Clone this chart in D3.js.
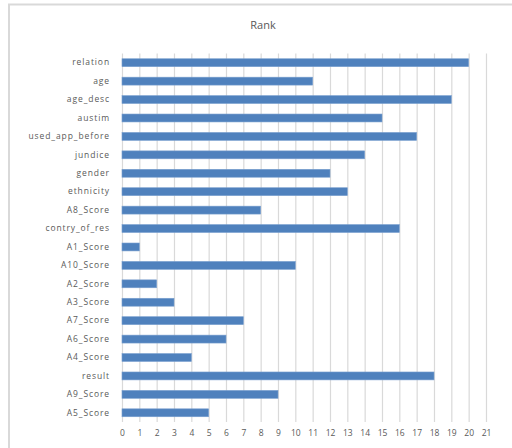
<!DOCTYPE html>
<html><head><meta charset="utf-8">
<script src="https://cdn.jsdelivr.net/npm/d3@7"></script>
<style>body{margin:0;background:#fff;}svg{display:block;}</style>
</head><body>
<svg id="c" width="512" height="448"></svg>
<script>
const categories = ["relation","age","age_desc","austim","used_app_before","jundice","gender","ethnicity","A8_Score","contry_of_res","A1_Score","A10_Score","A2_Score","A3_Score","A7_Score","A6_Score","A4_Score","result","A9_Score","A5_Score"];
const rankValues = [20,11,19,15,17,14,12,13,8,16,1,10,2,3,7,6,4,18,9,5];
const xTicks = d3.range(0,22);
const title = "Rank";

const svg = d3.select("#c");
// frame
svg.append("rect").attr("x",9).attr("y",4.5).attr("width",520).attr("height",460)
  .attr("fill","#fff").attr("stroke","#d9d9d9").attr("stroke-width",2);

const m = {left:122, right:486, top:53.5, bottom:422};
const x = d3.scaleLinear().domain([0,21]).range([m.left,m.right]);
const y = d3.scaleBand().domain(categories).range([m.top,m.bottom]).paddingInner(0.57).paddingOuter(0.285);

svg.append("text").attr("x",263).attr("y",29).attr("text-anchor","middle")
  .attr("font-family","Open Sans, sans-serif").attr("font-size",11).attr("fill","#595959").text(title);

// grid
const gx = svg.append("g").attr("transform",`translate(0,${m.bottom})`)
  .call(d3.axisBottom(x).tickValues(xTicks).tickSize(-(m.bottom-m.top)).tickPadding(8).tickFormat(d3.format("d")));
gx.select(".domain").remove();
gx.selectAll(".tick line").attr("stroke","#d9d9d9").attr("stroke-width",1.2);
gx.selectAll(".tick text").attr("font-family","Open Sans, sans-serif").attr("font-size",8.5).attr("fill","#595959");

// bars
svg.append("g").selectAll("rect").data(categories).join("rect")
  .attr("x",x(0)).attr("y",d=>y(d)).attr("height",y.bandwidth())
  .attr("width",(d,i)=>x(rankValues[i])-x(0))
  .attr("fill","#4f81bd").attr("stroke","#7aa0cf").attr("stroke-width",0.6);

// category labels
const gy = svg.append("g").attr("transform",`translate(${m.left},0)`)
  .call(d3.axisLeft(y).tickSize(0).tickPadding(12));
gy.select(".domain").remove();
gy.selectAll(".tick text").attr("font-family","Open Sans, sans-serif").attr("font-size",8.5).attr("fill","#595959").attr("letter-spacing",0.9);
</script>
</body></html>
